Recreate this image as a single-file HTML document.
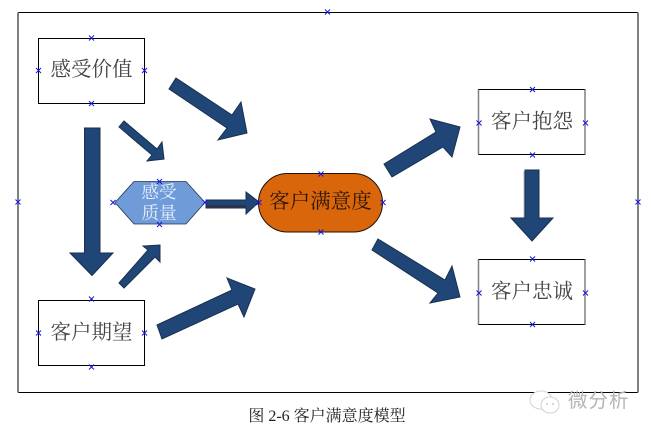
<!DOCTYPE html>
<html><head><meta charset="utf-8"><style>
html,body{margin:0;padding:0;background:#fff}
svg{display:block}
.t{font-family:"Liberation Serif","Noto Serif CJK SC",serif;font-size:20.5px;fill:#444;text-anchor:middle}
.a{fill:#1f4677;stroke:#1a2f4d;stroke-width:1;stroke-linejoin:miter}
.x{stroke:#1414e8;stroke-width:1;fill:none}
</style></head><body>
<svg width="651" height="433" viewBox="0 0 651 433" xmlns="http://www.w3.org/2000/svg">
<rect width="651" height="433" fill="#fff"/>
<!-- frame -->
<path d="M18 12.5H638M18 392.5H638" stroke="#000" stroke-width="1"/>
<path d="M18 12.5V392.5M638 12.5V392.5" stroke="#808080" stroke-width="2"/>
<!-- boxes -->
<rect x="38.5" y="38.5" width="106" height="65" fill="#fff" stroke="#000"/>
<rect x="38.5" y="300.5" width="106" height="65" fill="#fff" stroke="#000"/>
<g fill="#fff">
<rect x="478.5" y="89.5" width="106.5" height="65" stroke="#000"/>
<rect x="478.5" y="259.5" width="106.5" height="65" stroke="#000"/>
</g>
<path d="M478.5 89.5V154.5M585 89.5V154.5M478.5 259.5V324.5M585 259.5V324.5" stroke="#808080" stroke-width="1.5"/>
<!-- hexagon -->
<polygon points="115,202.500 134,181.500 186,181.500 205,202.500 186,224 134,224" fill="#6f9bd9" stroke="#24364f" stroke-width=".8"/>
<!-- pill -->
<rect x="258.500" y="173.500" width="124" height="58.500" rx="29" ry="29" fill="#d9660b" stroke="#1c1208" stroke-width="1"/>
<!-- arrows -->
<polygon class="a" points="176,78 232,115 241,102 247,133 218,140 227,128 169,89"/>
<polygon class="a" points="124,121 157,149 162,142 164,159 147,161 152,155 119,127"/>
<polygon class="a" points="84.500,128 100,128 100,253 113,253 92,275.500 70,253 84.500,253"/>
<polygon class="a" points="119,283 148,250 143,246 160,245 160,262 155,257 124,288"/>
<polygon class="a" points="157,325 232,290 227,278 255,289 244,317 238,304 162,339"/>
<polygon class="a" points="206,200 246,200 246,192 259,202 246,214 246,208 206,208"/>
<rect x="206" y="205" width="40" height="3" fill="#2a3347"/>
<polygon class="a" points="384,164 436,132 430,119 460,127 452,157 443,147 392,177"/>
<polygon class="a" points="378,239 445,280 452,266 460,297 430,303 438,293 372,250"/>
<rect x="523.500" y="171" width="2" height="47" fill="#b8b8b8"/>
<polygon class="a" points="525,170 539,170 539,218 553,218 532,241 511,218 525,218"/>
<!-- labels -->
<text class="t" x="91.500" y="76">感受价值</text>
<text class="t" x="91.500" y="339">客户期望</text>
<text class="t" x="532" y="128">客户抱怨</text>
<text class="t" x="532" y="298">客户忠诚</text>
<text class="t" x="320.500" y="208" style="fill:#2a1606">客户满意度</text>
<text class="t" x="159" y="198" style="fill:#e6effb;font-size:17.500px">感受</text>
<text class="t" x="159" y="219" style="fill:#e6effb;font-size:17.500px">质量</text>
<text x="327" y="421" text-anchor="middle" style="font-family:'Liberation Serif','Noto Serif CJK SC',serif;font-size:16px;fill:#222">图 2-6 客户满意度模型</text>
<!-- watermark -->
<g fill="#fff" stroke="#d4d4d4" stroke-width="1.100">
<ellipse cx="541" cy="400" rx="11" ry="9"/>
<ellipse cx="550" cy="405" rx="9" ry="8"/>
</g>
<circle cx="547" cy="404" r=".9" fill="#bbb"/><circle cx="553" cy="404" r=".9" fill="#bbb"/>
<text x="568" y="407" style="font-family:'Liberation Sans','Noto Sans CJK SC',sans-serif;font-size:19.500px;fill:#b4b4b4;letter-spacing:1px">微分析</text>
<!-- handles -->
<path class="x" d="
M325 9.500l5 5m0-5l-5 5
M15.500 199.500l5 5m0-5l-5 5
M635.500 199.500l5 5m0-5l-5 5
M89 364.500l5 5m0-5l-5 5
M89 35.500l5 5m0-5l-5 5
M89 101l5 5m0-5l-5 5
M36 68l5 5m0-5l-5 5
M142 68l5 5m0-5l-5 5
M89 296.500l5 5m0-5l-5 5
M36 330.500l5 5m0-5l-5 5
M142 330.500l5 5m0-5l-5 5
M530 87l5 5m0-5l-5 5
M530 152.500l5 5m0-5l-5 5
M476.500 120.500l5 5m0-5l-5 5
M583 120.500l5 5m0-5l-5 5
M530 256.500l5 5m0-5l-5 5
M530 322l5 5m0-5l-5 5
M476.500 290.500l5 5m0-5l-5 5
M583 290.500l5 5m0-5l-5 5
M157 179l5 5m0-5l-5 5
M157 222l5 5m0-5l-5 5
M110.500 200l5 5m0-5l-5 5
M202.500 200l5 5m0-5l-5 5
M256.500 200l5 5m0-5l-5 5
M380.500 200l5 5m0-5l-5 5
M318.500 171.500l5 5m0-5l-5 5
M318.500 229.500l5 5m0-5l-5 5
"/>
</svg>
</body></html>
